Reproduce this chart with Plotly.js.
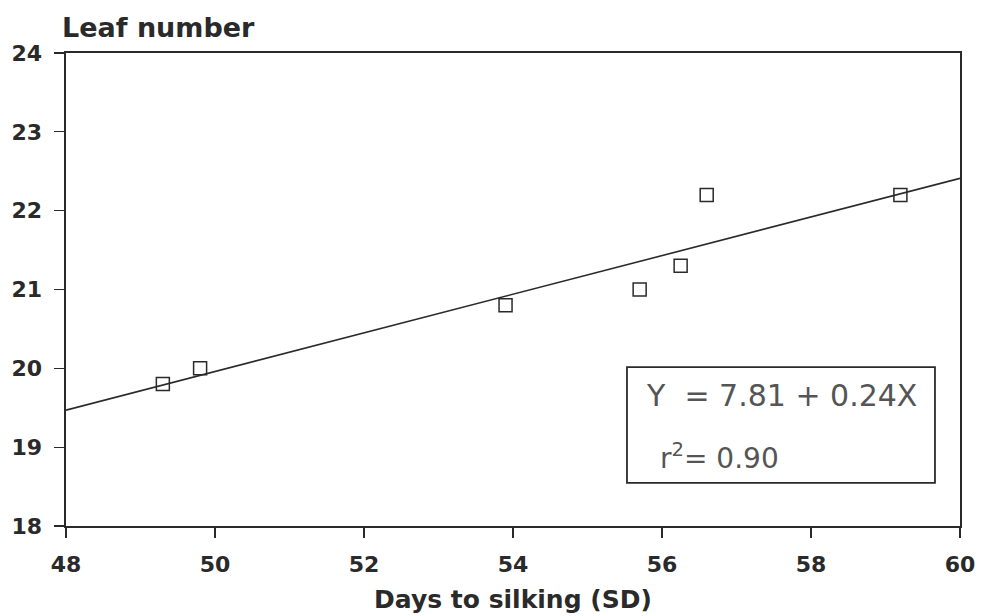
<!DOCTYPE html>
<html>
<head>
<meta charset="utf-8">
<script src="https://cdn.plot.ly/plotly-3.0.1.min.js"></script>
<style>html,body{margin:0;padding:0;background:#fff;}#chart{width:981px;height:616px;}</style>
</head>
<body>
<div id="chart"></div>
<script>
const daysToSilking = [49.3, 49.8, 53.9, 55.7, 56.25, 56.6, 59.2];
const leafNumber = [19.8, 20.0, 20.8, 21.0, 21.3, 22.2, 22.2];
const fitX = [48, 60];
const fitY = [19.47, 22.41];
const xTicks = [48, 50, 52, 54, 56, 58, 60];
const yTicks = [18, 19, 20, 21, 22, 23, 24];
const equationText = "Y  = 7.81 + 0.24X";
const r2Text = "r<sup>2</sup>= 0.90";

const ink = "#2a2a2a";
const boldFont = "DejaVu Sans, Verdana, sans-serif";
const traces = [
  {x: fitX, y: fitY, mode: "lines", type: "scatter", line: {color: ink, width: 1.6}, hoverinfo: "skip"},
  {x: daysToSilking, y: leafNumber, mode: "markers", type: "scatter",
   marker: {symbol: "square-open", size: 13, color: ink, line: {width: 1.5, color: ink}}}
];
const tickFont = {family: boldFont, size: 22, color: ink, weight: "bold"};
const layout = {
  width: 981, height: 616,
  margin: {l: 66, r: 21, t: 53, b: 90},
  paper_bgcolor: "#fff", plot_bgcolor: "#fff",
  showlegend: false,
  xaxis: {range: [48, 60], tickvals: xTicks, ticktext: xTicks.map(String), showgrid: false, zeroline: false,
          showline: true, linecolor: ink, linewidth: 1.6, mirror: true,
          ticks: "outside", ticklen: 10, tickwidth: 1.2, tickcolor: ink, ticklabelstandoff: 8, tickfont: tickFont,
          title: {text: "Days to silking (SD)", font: {family: boldFont, size: 25, color: ink, weight: "bold"}, standoff: 14}},
  yaxis: {range: [18, 24], tickvals: yTicks, ticktext: yTicks.map(String), showgrid: false, zeroline: false,
          showline: true, linecolor: ink, linewidth: 1.6, mirror: true,
          ticks: "outside", ticklen: 10, tickwidth: 1.2, tickcolor: ink, ticklabelstandoff: 8, tickfont: tickFont},
  shapes: [
    {type: "rect", xref: "paper", yref: "paper", x0: 0.6275, x1: 0.972, y0: 0.091, y1: 0.336,
     line: {color: ink, width: 1.8}, fillcolor: "rgba(0,0,0,0)"}
  ],
  annotations: [
    {text: "Leaf number", xref: "paper", yref: "paper", x: -0.007, y: 1.0, xanchor: "left", yanchor: "bottom", yshift: 8,
     showarrow: false, font: {family: boldFont, size: 27, color: ink, weight: "bold"}},
    {text: equationText, xref: "paper", yref: "paper", x: 0.647, y: 0.275, xanchor: "left", yanchor: "middle",
     showarrow: false, font: {family: "DejaVu Sans, sans-serif", size: 30, color: "#555"}},
    {text: r2Text, xref: "paper", yref: "paper", x: 0.662, y: 0.146, xanchor: "left", yanchor: "middle",
     showarrow: false, font: {family: "DejaVu Sans, sans-serif", size: 28, color: "#555"}}
  ]
};
Plotly.newPlot("chart", traces, layout, {displayModeBar: false, staticPlot: true});
</script>
</body>
</html>
